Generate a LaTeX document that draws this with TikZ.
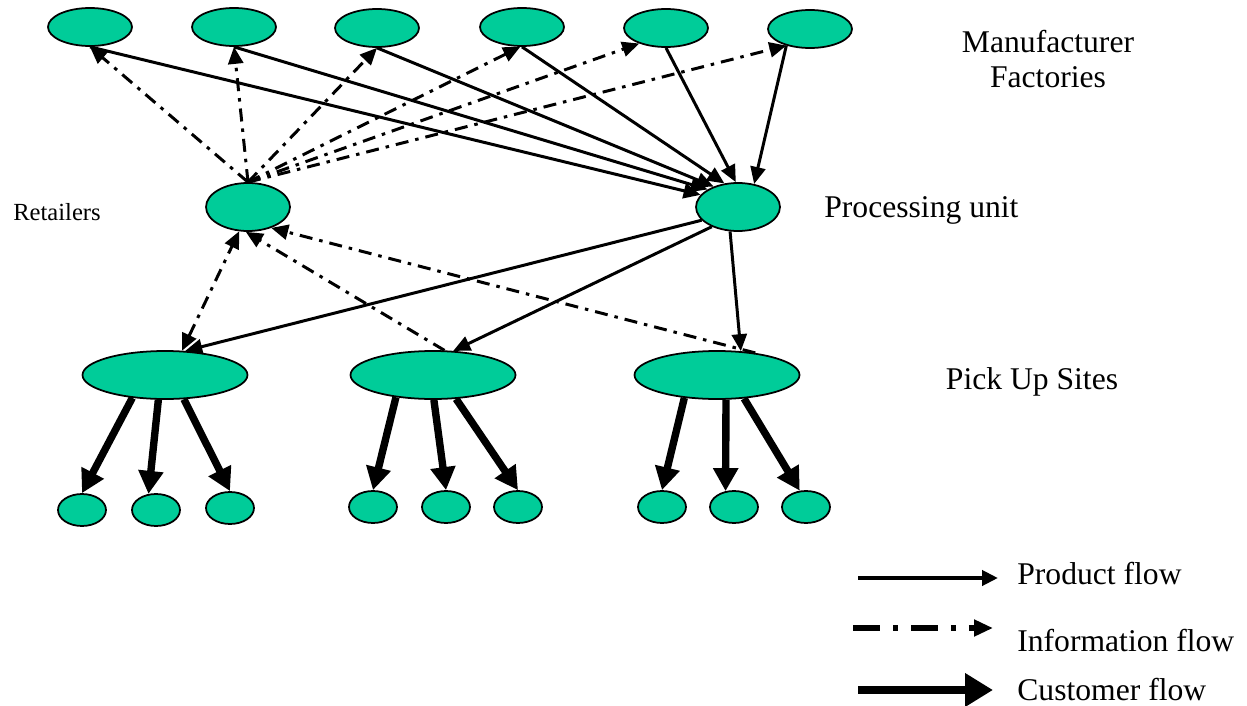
\documentclass[tikz,border=0pt]{standalone}
\usepackage{fontspec}
\setmainfont{Liberation Serif}
\usepackage{tikz}
\usetikzlibrary{arrows.meta,shapes.geometric,positioning}
\definecolor{blobgreen}{RGB}{0,204,153}
\tikzset{blob/.style={ellipse, draw=black, fill=blobgreen, line width=1pt, inner sep=0pt}}
\tikzset{factory/.style={blob, minimum width=1.68cm, minimum height=0.76cm}}
\tikzset{hub/.style={blob, minimum width=1.68cm, minimum height=0.96cm}}
\tikzset{pickup/.style={blob, minimum width=3.3cm, minimum height=0.96cm}}
\tikzset{cust/.style={blob, minimum width=0.96cm, minimum height=0.64cm}}
\tikzset{flowtip/.tip={Triangle[length=0.34cm,width=0.3cm]}}
\tikzset{prodflow/.style={line width=1.7pt, -flowtip}}
\tikzset{infoflow/.style={line width=1.7pt, dash pattern=on 0.26cm off 0.14cm on 0.07cm off 0.14cm, -flowtip}}
\tikzset{custflow/.style={line width=4.2pt, -{Triangle[length=0.46cm,width=0.48cm]}}}
\tikzset{lbl/.style={font=\fontsize{18}{19.5}\selectfont, align=center, inner sep=0pt}}

\begin{document}
\begin{tikzpicture}[x=0.02cm, y=-0.02cm]
    \useasboundingbox (0,0) rectangle (1247,706);

    % factories
    \node[factory] (f1) at (90,27) {};
    \node[factory] (f2) at (234,27) {};
    \node[factory] (f3) at (377,28) {};
    \node[factory] (f4) at (522,27) {};
    \node[factory] (f5) at (666,28) {};
    \node[factory] (f6) at (810,29) {};

    \node[hub] (ret) at (248,207) {};
    \node[hub] (proc) at (738,207) {};

    % pick up sites
    \node[pickup] (p1) at (165,375) {};
    \node[pickup] (p2) at (433,375) {};
    \node[pickup] (p3) at (717,375) {};

    \node[cust] (c1) at (82,510) {};
    \node[cust] (c2) at (156,510) {};
    \node[cust] (c3) at (230,508) {};
    \node[cust] (c4) at (373,507) {};
    \node[cust] (c5) at (446,507) {};
    \node[cust] (c6) at (518,507) {};
    \node[cust] (c7) at (662,507) {};
    \node[cust] (c8) at (734,507) {};
    \node[cust] (c9) at (806,507) {};

    \node[lbl] (tman) at (1048,59) {Manufacturer\\Factories};
    \node[font=\fontsize{14}{16}\selectfont, inner sep=0pt] (tret) at (57,212) {Retailers};
    \node[lbl, anchor=west] (tproc) at (824,210) {Processing unit};
    \node[lbl] (tpick) at (1032,382) {Pick Up Sites};

    \draw[prodflow] (f1.south) -- (proc.162);
    \draw[prodflow] (f2.south) -- (proc.150);
    \draw[prodflow] (f3.south) -- (proc.140);
    \draw[prodflow] (f4.south) -- (proc.120);
    \draw[prodflow] (f5.south) -- (proc.95);
    \draw[prodflow] (f6.215) -- (proc.55);

    \draw[infoflow] (ret.north) -- (f1.south);
    \draw[infoflow] (ret.north) -- (f2.south);
    \draw[infoflow] (ret.north) -- (f3.south);
    \draw[infoflow] (ret.north) -- (f4.265);
    \draw[infoflow] (ret.north) -- (f5.210);
    \draw[infoflow] (ret.north) -- (f6.215);

    \draw[prodflow] (proc.200) -- (p1.50);
    \draw[prodflow] (proc.217) -- (p2.50);
    \draw[prodflow] (proc.252) -- (p3.45);

    \draw[infoflow, flowtip-flowtip] (p1.55) -- (ret.250);
    \draw[infoflow] (p2.65) -- (ret.265);
    \draw[infoflow] (p3.30) -- (ret.318);

    \draw[custflow] (p1.215) -- (c1.north);
    \draw[custflow] (p1.255) -- (c2.115);
    \draw[custflow] (p1.308) -- (c3.north);
    \draw[custflow] (p2.211) -- (c4.north);
    \draw[custflow] (p2.272) -- (c5.north);
    \draw[custflow] (p2.314) -- (c6.north);
    \draw[custflow] (p3.215) -- (c7.north);
    \draw[custflow] (p3.290) -- (c8.118);
    \draw[custflow] (p3.319) -- (c9.111);

    % legend
    \coordinate (la1) at (858,578);
    \coordinate (lb1) at (998,578);
    \coordinate (la2) at (853,628);
    \coordinate (lb2) at (993,628);
    \coordinate (la3) at (858,690);
    \coordinate (lb3) at (993,690);
    \draw[line width=2.4pt, -{Triangle[length=0.32cm,width=0.3cm]}] (la1) -- (lb1);
    \draw[line width=3.2pt, dash pattern=on 0.54cm off 0.26cm on 0.1cm off 0.26cm, -{Triangle[length=0.38cm,width=0.32cm]}] (la2) -- (lb2);
    \draw[line width=4.6pt, -{Triangle[length=0.56cm,width=0.64cm]}] (la3) -- (lb3);
    \node[lbl, anchor=west] (tprod) at (1017,574) {Product flow};
    \node[lbl, anchor=west] (tinfo) at (1017,641) {Information flow};
    \node[lbl, anchor=west] (tcust) at (1017,690) {Customer flow};
\end{tikzpicture}
\end{document}
